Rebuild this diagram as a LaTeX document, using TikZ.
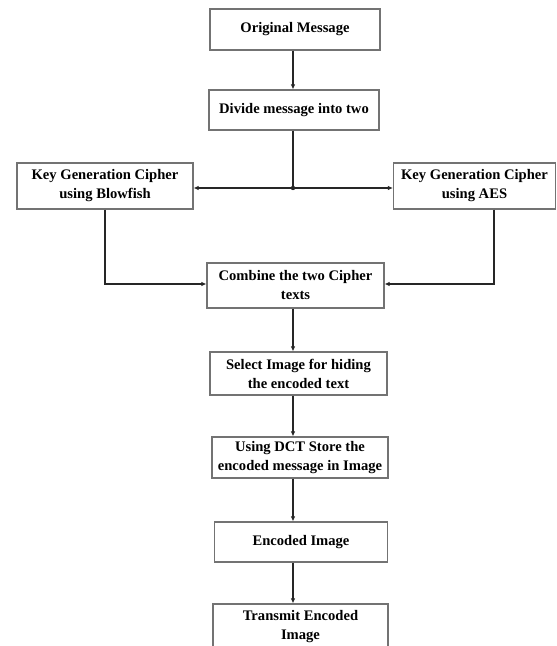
\documentclass[tikz,border=0pt]{standalone}
\usepackage{fontspec}
\setmainfont{Liberation Serif}
\usetikzlibrary{arrows.meta}

\begin{document}
\begin{tikzpicture}[x=1pt, y=-1pt,
    box/.style={rectangle, draw=black!55, line width=1.1pt, align=center, inner sep=2pt,
                font=\fontsize{14.6}{19}\selectfont\bfseries},
    arr/.style={-{Latex[length=5pt, width=4.5pt]}, line width=1.6pt, black!85}]
    \useasboundingbox (0,0) rectangle (557,646);

    % Boxes
    \node (orig) [box, minimum width=170pt, minimum height=41pt] at (295,29.5) {Original Message};
    \node (divide) [box, minimum width=170pt, minimum height=40pt] at (294,110) {Divide message into two};
    \node (blow) [box, minimum width=176pt, minimum height=46pt] at (105,186) {Key Generation Cipher\\ using Blowfish};
    \node (aes) [box, minimum width=162pt, minimum height=46pt] at (474.5,186) {Key Generation Cipher\\ using AES};
    \node (comb) [box, minimum width=177pt, minimum height=45pt] at (295.5,285.5) {Combine the two Cipher\\ texts};
    \node (sel) [box, minimum width=177pt, minimum height=43pt] at (298.5,373.5) {Select Image for hiding\\ the encoded text};
    \node (dct) [box, minimum width=176pt, minimum height=41pt] at (300,457.5) {Using DCT Store the\\ encoded message in Image};
    \node (enc) [box, minimum width=173pt, minimum height=40pt] at (301,542) {Encoded Image};
    \node (trans) [box, minimum width=175pt, minimum height=46pt] at (300.5,627) {Transmit Encoded\\ Image};

    \coordinate (spine) at (293,0);
    \coordinate (split) at (293,188);

    % Arrows
    \draw[arr] (orig.south -| spine) -- (divide.north -| spine);
    \draw[line width=1.6pt, black!85] (divide.south -| spine) -- (split);
    \fill[black!85] (split) circle (2.2pt);
    \draw[arr] (split) -- (split -| blow.east);
    \draw[arr] (split) -- (split -| aes.west);
    \draw[arr] (blow.south) |- ([yshift=1.5pt]comb.west);
    \draw[arr] ([xshift=19.5pt]aes.south) |- ([yshift=1.5pt]comb.east);
    \draw[arr] (comb.south -| spine) -- (sel.north -| spine);
    \draw[arr] (sel.south -| spine) -- (dct.north -| spine);
    \draw[arr] (dct.south -| spine) -- (enc.north -| spine);
    \draw[arr] (enc.south -| spine) -- (trans.north -| spine);
\end{tikzpicture}
\end{document}
